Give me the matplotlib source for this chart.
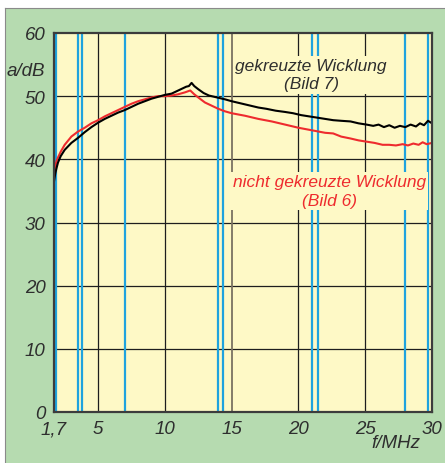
import matplotlib
matplotlib.use("Agg")
import matplotlib.pyplot as plt
from matplotlib.patches import Rectangle
from matplotlib.lines import Line2D

# Attenuation curves of the two winding variants (f in MHz, a in dB)
freq_crossed = [1.7, 1.8, 1.9, 2.0, 2.2, 2.5, 3.0, 3.5, 4.0, 4.5, 5.0, 5.5, 6.0, 6.5,
                7.0, 7.5, 8.0, 8.5, 9.0, 9.5, 10.0, 10.5, 11.0, 11.3, 11.6, 11.8, 12.0,
                12.2, 12.5, 12.9, 13.3, 13.9, 14.5, 15.0, 15.6, 16.2, 17.0, 17.6, 18.3,
                19.0, 19.6, 20.2, 20.8, 21.4, 22.0, 22.6, 23.2, 23.9, 24.5, 25.1, 25.6,
                26.0, 26.4, 26.8, 27.2, 27.6, 28.0, 28.4, 28.8, 29.1, 29.4, 29.7, 30.0]
att_crossed = [36.5, 37.8, 38.7, 39.5, 40.5, 41.5, 42.6, 43.4, 44.3, 45.1, 45.8, 46.4, 46.9, 47.4,
               47.8, 48.3, 48.8, 49.2, 49.6, 49.9, 50.2, 50.4, 50.9, 51.2, 51.5, 51.6, 52.1,
               51.6, 51.1, 50.5, 50.1, 49.8, 49.5, 49.2, 48.9, 48.6, 48.2, 48.0, 47.7,
               47.5, 47.3, 47.0, 46.8, 46.6, 46.4, 46.2, 46.1, 46.0, 45.7, 45.5, 45.3,
               45.5, 45.1, 45.4, 45.0, 45.3, 45.1, 45.5, 45.2, 45.7, 45.4, 46.1, 45.7]

freq_plain = [1.7, 1.8, 1.9, 2.0, 2.2, 2.5, 3.0, 3.5, 4.0, 4.5, 5.0, 5.5, 6.0, 6.5,
              7.0, 7.5, 8.0, 8.5, 9.0, 9.5, 10.0, 10.5, 11.0, 11.5, 11.9, 12.2, 12.5,
              13.0, 13.5, 14.0, 14.5, 15.0, 16.0, 17.0, 18.0, 19.0, 20.0, 21.0, 22.0,
              22.6, 23.2, 23.9, 24.5, 25.1, 25.7, 26.3, 26.8, 27.3, 27.8, 28.2, 28.6,
              29.0, 29.3, 29.6, 30.0]
att_plain = [38.0, 39.0, 39.8, 40.3, 41.2, 42.3, 43.6, 44.4, 45.0, 45.7, 46.2, 46.8, 47.3, 47.8,
             48.3, 48.8, 49.2, 49.5, 49.8, 50.0, 50.0, 50.1, 50.3, 50.6, 50.9, 50.3, 49.8,
             49.0, 48.5, 48.0, 47.6, 47.3, 46.9, 46.4, 46.0, 45.5, 45.0, 44.6, 44.2,
             44.1, 43.6, 43.3, 43.0, 42.8, 42.6, 42.3, 42.3, 42.2, 42.4, 42.2, 42.5,
             42.3, 42.7, 42.4, 42.6]

# Amateur radio band edges marked in the chart (MHz)
band_marks = [1.85, 3.5, 3.8, 7.05, 14.0, 14.35, 21.0, 21.45, 28.0, 29.7]

x_ticks = [1.7, 5, 10, 15, 20, 25, 30]
x_tick_labels = ["1,7", "5", "10", "15", "20", "25", "30"]
y_ticks = [0, 10, 20, 30, 40, 50, 60]
y_tick_labels = ["0", "10", "20", "30", "40", "50", "60"]

label_crossed = "gekreuzte Wicklung\n(Bild 7)"
label_plain = "nicht gekreuzte Wicklung\n(Bild 6)"

GREEN = "#b6dbb0"
YELLOW = "#fef9c6"
BLUE = "#1fa3de"
RED = "#ee2b2e"
TEXT = "#2e2e2e"

plt.rcParams["font.family"] = ["Liberation Sans", "DejaVu Sans"]

W, H = 445, 464
fig = plt.figure(figsize=(W / 100, H / 100), dpi=100, facecolor="white")

# green panel behind the chart
fig.patches.append(Rectangle((5 / W, 0), 1 - 5 / W, 1 - 9 / H, transform=fig.transFigure,
                             facecolor=GREEN, edgecolor="none", zorder=-2))
fig.lines.append(Line2D([5 / W, 5 / W], [0, 1 - 9 / H], transform=fig.transFigure,
                        color="#8a8a8a", lw=0.8, zorder=-1))
fig.lines.append(Line2D([5 / W, 1], [1 - 9 / H, 1 - 9 / H], transform=fig.transFigure,
                        color="#8a8a8a", lw=0.8, zorder=-1))

ax = fig.add_axes([54 / W, (H - 413) / H, (432 - 54) / W, (413 - 34) / H])
ax.set_zorder(1)
ax.set_facecolor(YELLOW)
ax.set_xlim(1.7, 30)
ax.set_ylim(0, 60)

# grid
for y in y_ticks[1:-1]:
    ax.axhline(y, color="#1e1e1e", lw=0.9, zorder=1)
for x in x_ticks[1:-1]:
    ax.axvline(x, color="#7a7262" if x == 15 else "#1e1e1e",
               lw=1.3 if x == 15 else 0.9, zorder=1)
for f in band_marks:
    ax.axvline(f, color=BLUE, lw=1.6, zorder=1.5)

ax.plot(freq_crossed, att_crossed, color="black", lw=1.5, zorder=4)
ax.plot(freq_plain, att_plain, color=RED, lw=1.5, zorder=3)

fs = 12.5
ax.text(20.95, 53.4, label_crossed, ha="center", va="center", fontsize=fs,
        style="italic", color=TEXT, linespacing=1.3, zorder=2.5,
        bbox=dict(facecolor=YELLOW, edgecolor="none", pad=1.5))
ax.text(22.35, 35.0, label_plain, ha="center", va="center", fontsize=fs,
        style="italic", color=RED, linespacing=1.3, zorder=2.5,
        bbox=dict(facecolor=YELLOW, edgecolor="none", pad=1.5))

ax.set_xticks(x_ticks)
ax.set_xticklabels(x_tick_labels)
ax.set_yticks(y_ticks)
ax.set_yticklabels(y_tick_labels)
ax.tick_params(length=0, labelsize=fs + 1, labelcolor=TEXT)
ax.tick_params(axis="y", pad=6)
ax.tick_params(axis="x", pad=6)
for lab in ax.get_xticklabels() + ax.get_yticklabels():
    lab.set_fontstyle("italic")

for s in ax.spines.values():
    s.set_color("#3c3c3c")
    s.set_linewidth(1.6)
    s.set_zorder(5)

fig.text(45 / W, 1 - 72 / H, "a/dB", ha="right", va="center", fontsize=fs + 1,
         style="italic", color=TEXT)
fig.text(396 / W, 1 - 444 / H, "f/MHz", ha="center", va="center", fontsize=fs + 1,
         style="italic", color=TEXT)

fig.savefig("out.png", dpi=100, facecolor="white")
